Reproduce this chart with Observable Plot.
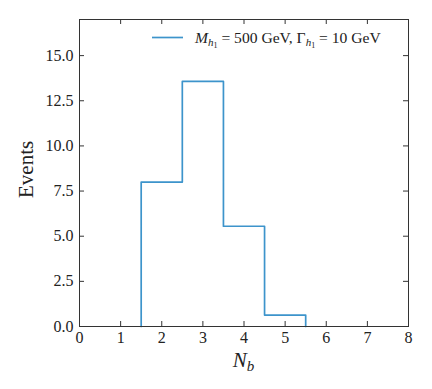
<!DOCTYPE html>
<html><head><meta charset="utf-8">
<script src="https://cdn.jsdelivr.net/npm/d3@7"></script>
<script src="https://cdn.jsdelivr.net/npm/@observablehq/plot@0.6"></script>
<style>
body{margin:0;background:#fff;} svg{display:block;}
#chart svg, #chart svg text { font-family: 'Liberation Serif', serif !important; }
</style>
</head><body><div id="chart"></div>
<script>
const binEdges = [1.5, 2.5, 3.5, 4.5, 5.5];
const counts = [8.0, 13.57, 5.55, 0.63];
const xTicks = [0, 1, 2, 3, 4, 5, 6, 7, 8];
const yTicks = [0, 2.5, 5, 7.5, 10, 12.5, 15];
const lineColor = "#3d94cb";

// step outline vertices built from the bins
const pts = [{x: binEdges[0], y: 0}];
counts.forEach((c, i) => { pts.push({x: binEdges[i], y: c}); pts.push({x: binEdges[i + 1], y: c}); });
pts.push({x: binEdges[binEdges.length - 1], y: 0});

const W = 432, H = 389, mt = 19, mr = 24, mb = 63, ml = 79;
const innerH = H - mt - mb, innerW = W - ml - mr;
const tl = 5;
const axisColor = "#333";

const chart = Plot.plot({
  width: W, height: H,
  marginTop: mt, marginRight: mr, marginBottom: mb, marginLeft: ml,
  style: {fontFamily: "'Liberation Serif', serif", fontSize: "16px", color: "#222", background: "#fff"},
  x: {domain: [0, 8], ticks: xTicks, tickSize: 0, tickPadding: 5, label: null, tickFormat: d3.format("d")},
  y: {domain: [0, 17], ticks: yTicks, tickSize: 0, tickPadding: 6, label: null, tickFormat: d3.format(".1f")},
  marks: [
    Plot.line(pts, {x: "x", y: "y", stroke: lineColor, strokeWidth: 1.7}),
    Plot.tickX(xTicks, {x: d => d, insetTop: innerH - tl, stroke: axisColor, strokeWidth: 1}),
    Plot.tickX(xTicks, {x: d => d, insetBottom: innerH - tl, stroke: axisColor, strokeWidth: 1}),
    Plot.tickY(yTicks, {y: d => d, insetRight: innerW - tl, stroke: axisColor, strokeWidth: 1}),
    Plot.tickY(yTicks, {y: d => d, insetLeft: innerW - tl, stroke: axisColor, strokeWidth: 1}),
    Plot.frame({stroke: axisColor, strokeWidth: 1})
  ]
});
document.getElementById("chart").appendChild(chart);

const svg = d3.select(chart);
const g = svg.append("g").attr("fill", "#222");
// y label
g.append("text").attr("transform", `translate(33,${mt + innerH * 0.49}) rotate(-90)`)
  .attr("text-anchor", "middle").attr("font-size", 21).text("Events");
// x label
const xl = g.append("text").attr("x", ml + innerW / 2).attr("y", 367).attr("text-anchor", "middle").attr("font-size", 21);
xl.append("tspan").attr("font-style", "italic").text("N");
xl.append("tspan").attr("font-style", "italic").attr("font-size", 15).attr("dy", 4).text("b");
// legend
g.append("line").attr("x1", 152).attr("x2", 183).attr("y1", 37.5).attr("y2", 37.5)
  .attr("stroke", lineColor).attr("stroke-width", 1.7);
const lt = g.append("text").attr("x", 195).attr("y", 43).attr("font-size", 15.6).attr("text-anchor", "start");
lt.append("tspan").attr("font-style", "italic").text("M");
lt.append("tspan").attr("font-style", "italic").attr("font-size", 11).attr("dy", 3).text("h");
lt.append("tspan").attr("font-size", 8).attr("dy", 2).text("1");
lt.append("tspan").attr("dy", -5).text(" = 500 GeV, Γ");
lt.append("tspan").attr("font-style", "italic").attr("font-size", 11).attr("dy", 3).text("h");
lt.append("tspan").attr("font-size", 8).attr("dy", 2).text("1");
lt.append("tspan").attr("dy", -5).text(" = 10 GeV");
</script>
</body></html>
